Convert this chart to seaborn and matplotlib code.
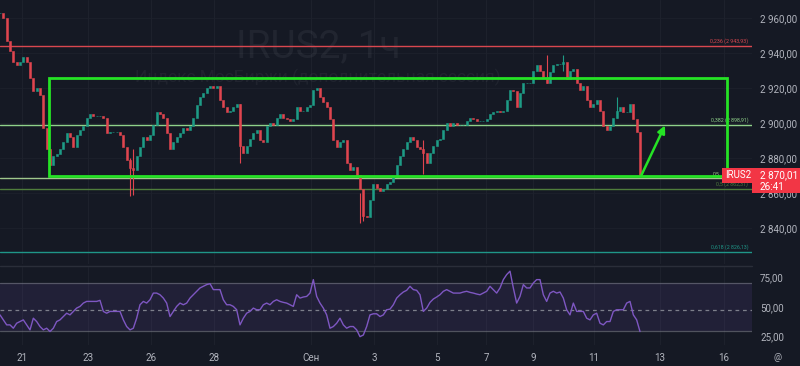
import numpy as np
import pandas as pd
import matplotlib
matplotlib.use("Agg")
import matplotlib.pyplot as plt
import seaborn as sns
from matplotlib.patches import Rectangle, FancyArrowPatch
from matplotlib.transforms import blended_transform_factory
from matplotlib.lines import Line2D

# ---------------- data ----------------
closes = [
    2963, 2960, 2947, 2941, 2935, 2933, 2935, 2938, 2935, 2926,
    2918, 2920, 2916, 2897, 2885, 2876, 2881, 2882, 2885, 2889,
    2894, 2892, 2886, 2893, 2896, 2898, 2903, 2905, 2904, 2904,
    2904, 2903, 2894, 2895, 2895, 2895, 2893, 2886, 2879, 2874,
    2873, 2881, 2886, 2892, 2890, 2893, 2899, 2906, 2905, 2903,
    2894, 2885, 2889, 2892, 2894, 2897, 2896, 2898, 2903, 2910,
    2915, 2917, 2920, 2921, 2920, 2921, 2913, 2909, 2906, 2907,
    2909, 2911, 2887, 2883, 2887, 2891, 2894, 2896, 2890, 2889,
    2898, 2900, 2899, 2903, 2905, 2903, 2902, 2901, 2902, 2909,
    2907, 2907, 2909, 2910, 2919, 2920, 2915, 2912, 2909, 2902,
    2890, 2886, 2889, 2890, 2877, 2873, 2875, 2870, 2862, 2847,
    2846, 2856, 2865, 2863, 2861, 2862, 2865, 2866, 2869, 2876,
    2881, 2885, 2889, 2892, 2890, 2886, 2885, 2883, 2877, 2883,
    2887, 2890, 2891, 2896, 2900, 2898, 2900, 2899, 2899, 2899,
    2901, 2903, 2902, 2901, 2901, 2901, 2902, 2905, 2906, 2907,
    2906, 2907, 2913, 2919, 2918, 2909, 2917, 2923, 2923, 2923,
    2930, 2933, 2930, 2926, 2923, 2929, 2933, 2934, 2934, 2935,
    2925, 2930, 2931, 2923, 2919, 2921, 2913, 2909, 2911, 2913,
    2907, 2898, 2896, 2898, 2903, 2907, 2909, 2906, 2906, 2911,
    2902, 2895, 2870.01,
]

rsi = [
    43.2, 39.0, 34.8, 34.8, 32.0, 36.2, 37.6, 39.0, 34.8, 30.6,
    40.4, 37.6, 33.4, 30.6, 32.0, 29.2, 32.0, 37.6, 39.0, 41.8,
    44.6, 43.2, 46.1, 48.9, 50.3, 53.1, 54.5, 54.5, 54.5, 54.5,
    55.4, 46.1, 44.6, 46.1, 46.1, 46.1, 46.1, 39.0, 33.4, 30.6,
    32.0, 40.4, 51.7, 54.5, 53.1, 55.9, 61.5, 61.5, 60.1, 57.3,
    53.1, 41.8, 46.1, 50.3, 53.1, 51.7, 53.1, 57.3, 60.1, 63.0,
    65.8, 67.2, 68.6, 69.4, 64.4, 64.4, 64.4, 55.9, 51.7, 51.7,
    50.3, 47.5, 34.8, 40.4, 44.6, 46.1, 48.9, 47.5, 47.5, 51.7,
    53.1, 51.7, 54.5, 55.9, 54.5, 53.7, 53.1, 51.7, 50.3, 60.1,
    57.3, 58.2, 58.7, 61.5, 72.8, 58.7, 53.1, 48.9, 43.2, 32.0,
    33.4, 36.2, 40.4, 34.8, 32.0, 33.4, 33.4, 30.6, 24.9, 26.3,
    33.4, 43.2, 44.1, 44.1, 41.8, 43.2, 47.5, 48.0, 51.7, 57.3,
    60.1, 62.4, 63.8, 67.2, 64.4, 63.8, 60.1, 46.1, 48.9, 53.7,
    56.5, 58.2, 60.1, 63.0, 64.4, 63.0, 61.5, 61.5, 61.5, 62.4,
    63.0, 62.1, 61.5, 60.7, 60.1, 61.5, 63.0, 67.2, 64.4, 61.5,
    65.8, 72.8, 77.0, 79.9, 65.8, 53.1, 58.7, 68.6, 65.8, 65.8,
    70.0, 72.8, 72.8, 60.1, 54.5, 61.5, 63.0, 61.5, 62.4, 57.3,
    47.5, 43.2, 53.1, 46.1, 46.1, 46.1, 40.4, 39.0, 43.2, 44.6,
    36.2, 34.8, 37.6, 37.6, 46.1, 47.5, 47.5, 47.5, 53.1, 54.5,
    43.2, 39.0, 29.2,
]

wick_idx = [39, 40, 72, 108, 109, 127, 164, 169, 185]
wick_lo = [2858, 2859, 2877, 2843, 2844, 2871, 2923, 2930, 2903]
wick_hi = [2880, 2885, 2911, 2860, 2858, 2890, 2939, 2939, 2915]

fib_levels = [2943.93, 2898.91, 2868.39, 2862.31, 2826.13]
fib_labels = ["0,236 (2 943,93)", "0,382 (2 898,91)", "0,5",
              "0,5 (2 862,31)", "0,618 (2 826,13)"]
fib_label_x = [0.995, 0.995, 0.957, 0.995, 0.995]
fib_colors = ["#d9474f", "#8fd18a", "#9fc78c", "#4f7d3c", "#1f9688"]

box_x = [14.7, 218.1]
box_y = [2869.7, 2926.0]
arrow_from = (192.3, 2869.7)
arrow_to = (199.5, 2898.6)

price_ticks = [2840, 2860, 2880, 2900, 2920, 2940, 2960]
price_tick_labels = ["2 840,00", "2 860,00", "2 880,00", "2 900,00",
                     "2 920,00", "2 940,00", "2 960,00"]
rsi_ticks = [25, 50, 75]
rsi_tick_labels = ["25,00", "50,00", "75,00"]
rsi_bands = [70, 47, 30]

x_tick_pos = [6.7, 26.4, 45.3, 64.3, 93.3, 112.2, 131.0, 145.8, 159.9, 178.2, 198.0, 217.2]
x_tick_labels = ["21", "23", "26", "28", "Сен", "3", "5", "7", "9", "11", "13", "16"]

symbol = "IRUS2"
last_price_text = "2 870,01"
timer_text = "26:41"
title_text = "IRUS2, 1ч"
subtitle_text = "Индекс МосБиржи (дополнительная сессия)"

# ---------------- style ----------------
BG = "#151924"
UP = "#1e9c86"
DOWN = "#e0454f"
TXT = "#b2b5be"
LIME = "#25e325"
GRID = "#1d212c"

sns.set_theme(style="dark", rc={"axes.facecolor": BG, "figure.facecolor": BG})
plt.rcParams["font.family"] = ["Roboto", "DejaVu Sans"]

W, H = 800, 366
fig = plt.figure(figsize=(8, 3.66), dpi=100, facecolor=BG)
ax = fig.add_axes([0, 1 - 264 / H, 752 / W, 264 / H])
ax2 = fig.add_axes([0, 1 - 345 / H, 752 / W, 78 / H])

for a in (ax, ax2):
    a.set_facecolor(BG)
    for s in a.spines.values():
        s.set_visible(False)
    a.set_xlim(0, 225.6)

ax.set_ylim(2819.4, 2970.3)
ax2.set_ylim(17.9, 83.4)

# grid
for xp in x_tick_pos:
    ax.axvline(xp, color=GRID, lw=0.8, zorder=0)
    ax2.axvline(xp, color=GRID, lw=0.8, zorder=0)
for yp in price_ticks:
    ax.axhline(yp, color=GRID, lw=0.6, zorder=0)

# watermark
ax.text(0.423, 0.784, title_text, transform=ax.transAxes, ha="center", va="baseline",
        fontsize=28, color="#d1d4dc", alpha=0.065, zorder=0.5)
ax.text(0.422, 0.69, subtitle_text, transform=ax.transAxes, ha="center", va="baseline",
        fontsize=12.5, color="#d1d4dc", alpha=0.06, zorder=0.5)

# candles
c = np.array(closes, dtype=float)
idx = np.arange(len(c))
o = np.r_[c[0], c[:-1]]
col = np.where(c >= o, UP, DOWN)
ax.bar(idx, c - o, bottom=o, width=0.62, color=col, edgecolor=col, linewidth=0.4, zorder=3)
wcol = [col[i] for i in wick_idx]
ax.vlines(wick_idx, wick_lo, wick_hi, colors=wcol, lw=0.8, zorder=3)

# fib lines
ytr = blended_transform_factory(ax.transAxes, ax.transData)
for lvl, lab, lx, cc in zip(fib_levels, fib_labels, fib_label_x, fib_colors):
    ax.axhline(lvl, color=cc, lw=1.0, zorder=2)
    ax.annotate(lab, xy=(lx, lvl), xycoords=ytr, xytext=(0, 1.5), textcoords="offset points",
                ha="right", va="bottom", fontsize=3.8, color=cc, zorder=2)

# green range box and arrow
ax.add_patch(Rectangle((box_x[0], box_y[0]), box_x[1] - box_x[0], box_y[1] - box_y[0],
                       fill=False, ec=LIME, lw=2.0, zorder=5))
ax.add_patch(FancyArrowPatch(arrow_from, arrow_to, arrowstyle="-|>", mutation_scale=11,
                             color=LIME, lw=1.8, zorder=6, shrinkA=0, shrinkB=0))

# price axis
ax.yaxis.tick_right()
ax.set_yticks(price_ticks)
ax.set_yticklabels(price_tick_labels)
ax.set_xticks(x_tick_pos)
ax.tick_params(axis="y", length=0, pad=5.8, labelsize=7, labelcolor=TXT)
ax.tick_params(axis="x", length=0, labelbottom=False)
ax.grid(False)

# symbol label + price box
ax.text(0.9995, closes[-1], symbol, transform=ytr, ha="right", va="center", fontsize=7,
        color="white", zorder=7,
        bbox=dict(boxstyle="square,pad=0.3", fc="#f23645", ec="none"))
fig.add_artist(Rectangle((752 / W, 1 - 193 / H), 48 / W, 25 / H, transform=fig.transFigure,
                         fc="#f23645", ec="none", zorder=5))
fig.text(760 / W, 1 - 175.5 / H, last_price_text, ha="left", va="center", fontsize=7.2,
         color="white", zorder=6)
fig.text(760 / W, 1 - 187 / H, timer_text, ha="left", va="center", fontsize=7.2,
         color="white", zorder=6)

# separator
fig.add_artist(Line2D([0, 752 / W], [1 - 265.5 / H] * 2, transform=fig.transFigure,
                      color="#2a2e39", lw=1.0))

# RSI pane
ax2.axhspan(rsi_bands[2], rsi_bands[0], color="#7e57c2", alpha=0.12, lw=0, zorder=1)
ax2.axhline(rsi_bands[0], color="#787b86", lw=0.9, alpha=0.6, zorder=2)
ax2.axhline(rsi_bands[2], color="#787b86", lw=0.9, alpha=0.6, zorder=2)
ax2.axhline(rsi_bands[1], color="#9598a1", lw=0.9, alpha=0.8, ls=(0, (3, 3)), zorder=2)
df = pd.DataFrame({"i": idx, "rsi": rsi})
sns.lineplot(data=df, x="i", y="rsi", ax=ax2, color="#7e57c2", lw=1.0, zorder=3)
ax2.set_xlabel("")
ax2.set_ylabel("")
ax2.yaxis.tick_right()
ax2.set_yticks(rsi_ticks)
ax2.set_yticklabels(rsi_tick_labels)
ax2.set_xticks(x_tick_pos)
ax2.set_xticklabels(x_tick_labels)
ax2.tick_params(axis="y", length=0, pad=5.8, labelsize=7, labelcolor=TXT)
ax2.tick_params(axis="x", length=0, pad=6.0, labelsize=7, labelcolor=TXT)
ax2.grid(False)
ax2.set_xlim(0, 225.6)
ax2.set_ylim(17.9, 83.4)

fig.text(778 / W, 1 - 358 / H, "@", ha="center", va="center", fontsize=6.5, color=TXT)

fig.savefig("out.png", dpi=100, facecolor=BG)
